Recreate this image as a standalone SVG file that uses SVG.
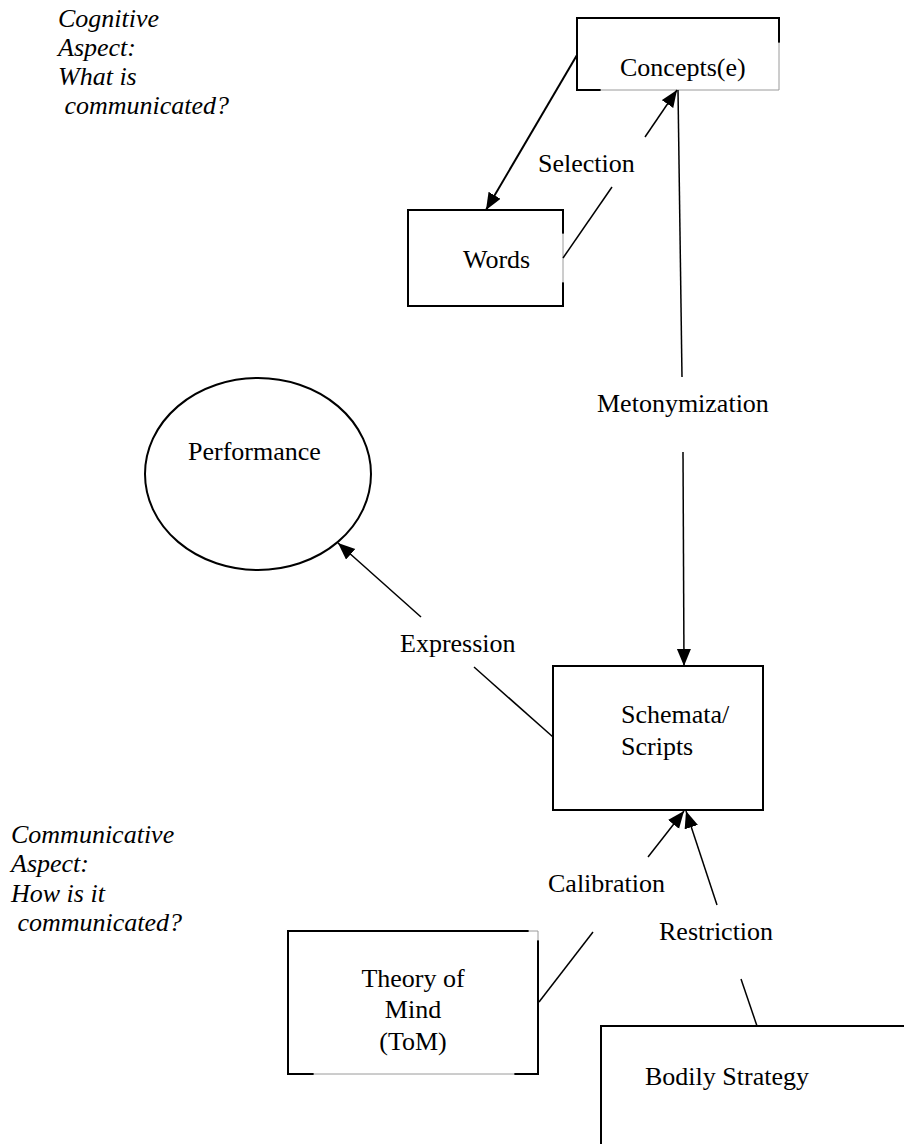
<svg xmlns="http://www.w3.org/2000/svg" width="904" height="1144" viewBox="0 0 904 1144" font-family="'Liberation Serif', 'DejaVu Serif', serif" font-size="26">
  <style>
    text { font-family: 'Liberation Serif', 'DejaVu Serif', serif; font-size: 26px; fill: #000; }
    .it { font-style: italic; }
    .edge { stroke: #000; stroke-width: 2; fill: none; stroke-linecap: square; }
    .thin { stroke: #9a9a9a; stroke-width: 1; fill: none; }
    .conn { stroke: #000; stroke-width: 1.5; fill: none; }
    .conn-bold { stroke: #000; stroke-width: 2; fill: none; }
  </style>
  <defs>
    <marker id="arrow" markerUnits="userSpaceOnUse" markerWidth="20" markerHeight="16" refX="17" refY="7" orient="auto">
      <path d="M0,0 L17,7 L0,14 Z" fill="#000"/>
    </marker>
  </defs>
  <rect width="904" height="1144" fill="#fff"/>

  <!-- side captions -->
  <g id="caption-cognitive">
    <text class="it" x="58" y="27">Cognitive</text>
    <text class="it" x="58" y="56">Aspect:</text>
    <text class="it" x="58" y="85">What is</text>
    <text class="it" x="58" y="114" xml:space="preserve"> communicated?</text>
  </g>
  <g id="caption-communicative">
    <text class="it" x="11" y="843">Communicative</text>
    <text class="it" x="11" y="872">Aspect:</text>
    <text class="it" x="11" y="902">How is it</text>
    <text class="it" x="11" y="931" xml:space="preserve"> communicated?</text>
  </g>

  <!-- nodes -->
  <g id="concepts">
    <path class="edge" d="M600,90 H577 V18 H779 V42"/>
    <path class="thin" d="M779,42 V90 H600"/>
    <text x="620" y="76">Concepts(e)</text>
  </g>

  <g id="words">
    <path class="edge" d="M563,233 V210 H408 V306 H563 V283"/>
    <path class="thin" d="M563,233 V283" stroke="#dcdcdc"/>
    <text x="463" y="268">Words</text>
  </g>

  <g id="performance">
    <ellipse cx="258" cy="474" rx="113" ry="96" fill="none" stroke="#000" stroke-width="2"/>
    <text x="188" y="460">Performance</text>
  </g>

  <g id="schemata">
    <rect class="edge" x="553" y="666" width="210" height="144"/>
    <text x="621" y="723">Schemata/</text>
    <text x="621" y="755">Scripts</text>
  </g>

  <g id="tom">
    <path class="edge" d="M528,931 H288 V1074 H313"/>
    <path class="edge" d="M538,941 V1074 H515"/>
    <path class="thin" d="M528,931 H538 V941 M313,1074 H515"/>
    <text x="413" y="987" text-anchor="middle">Theory of</text>
    <text x="413" y="1018" text-anchor="middle">Mind</text>
    <text x="413" y="1050" text-anchor="middle">(ToM)</text>
  </g>

  <g id="bodily-strategy">
    <path class="edge" d="M601,1150 V1026 H910"/>
    <text x="645" y="1085">Bodily Strategy</text>
  </g>

  <!-- connectors and their labels -->
  <g id="connectors">
    <line class="conn-bold" x1="577" y1="55" x2="486" y2="210" marker-end="url(#arrow)"/>

    <line class="conn" x1="563" y1="258" x2="612" y2="187"/>
    <line class="conn" x1="645" y1="137" x2="677" y2="90" marker-end="url(#arrow)"/>
    <text x="538" y="172">Selection</text>

    <line class="conn" x1="678" y1="90" x2="682" y2="377"/>
    <line class="conn" x1="683" y1="452" x2="684" y2="666" marker-end="url(#arrow)"/>
    <text x="597" y="412">Metonymization</text>

    <line class="conn" x1="553" y1="737" x2="474" y2="667"/>
    <line class="conn" x1="421" y1="617" x2="338" y2="543" marker-end="url(#arrow)"/>
    <text x="400" y="652">Expression</text>

    <line class="conn" x1="539" y1="1002" x2="593" y2="932"/>
    <line class="conn" x1="648" y1="857" x2="684" y2="811" marker-end="url(#arrow)"/>
    <text x="548" y="892">Calibration</text>

    <line class="conn" x1="757" y1="1026" x2="741" y2="979"/>
    <line class="conn" x1="717" y1="905" x2="686" y2="811" marker-end="url(#arrow)"/>
    <text x="659" y="940">Restriction</text>
  </g>
</svg>
